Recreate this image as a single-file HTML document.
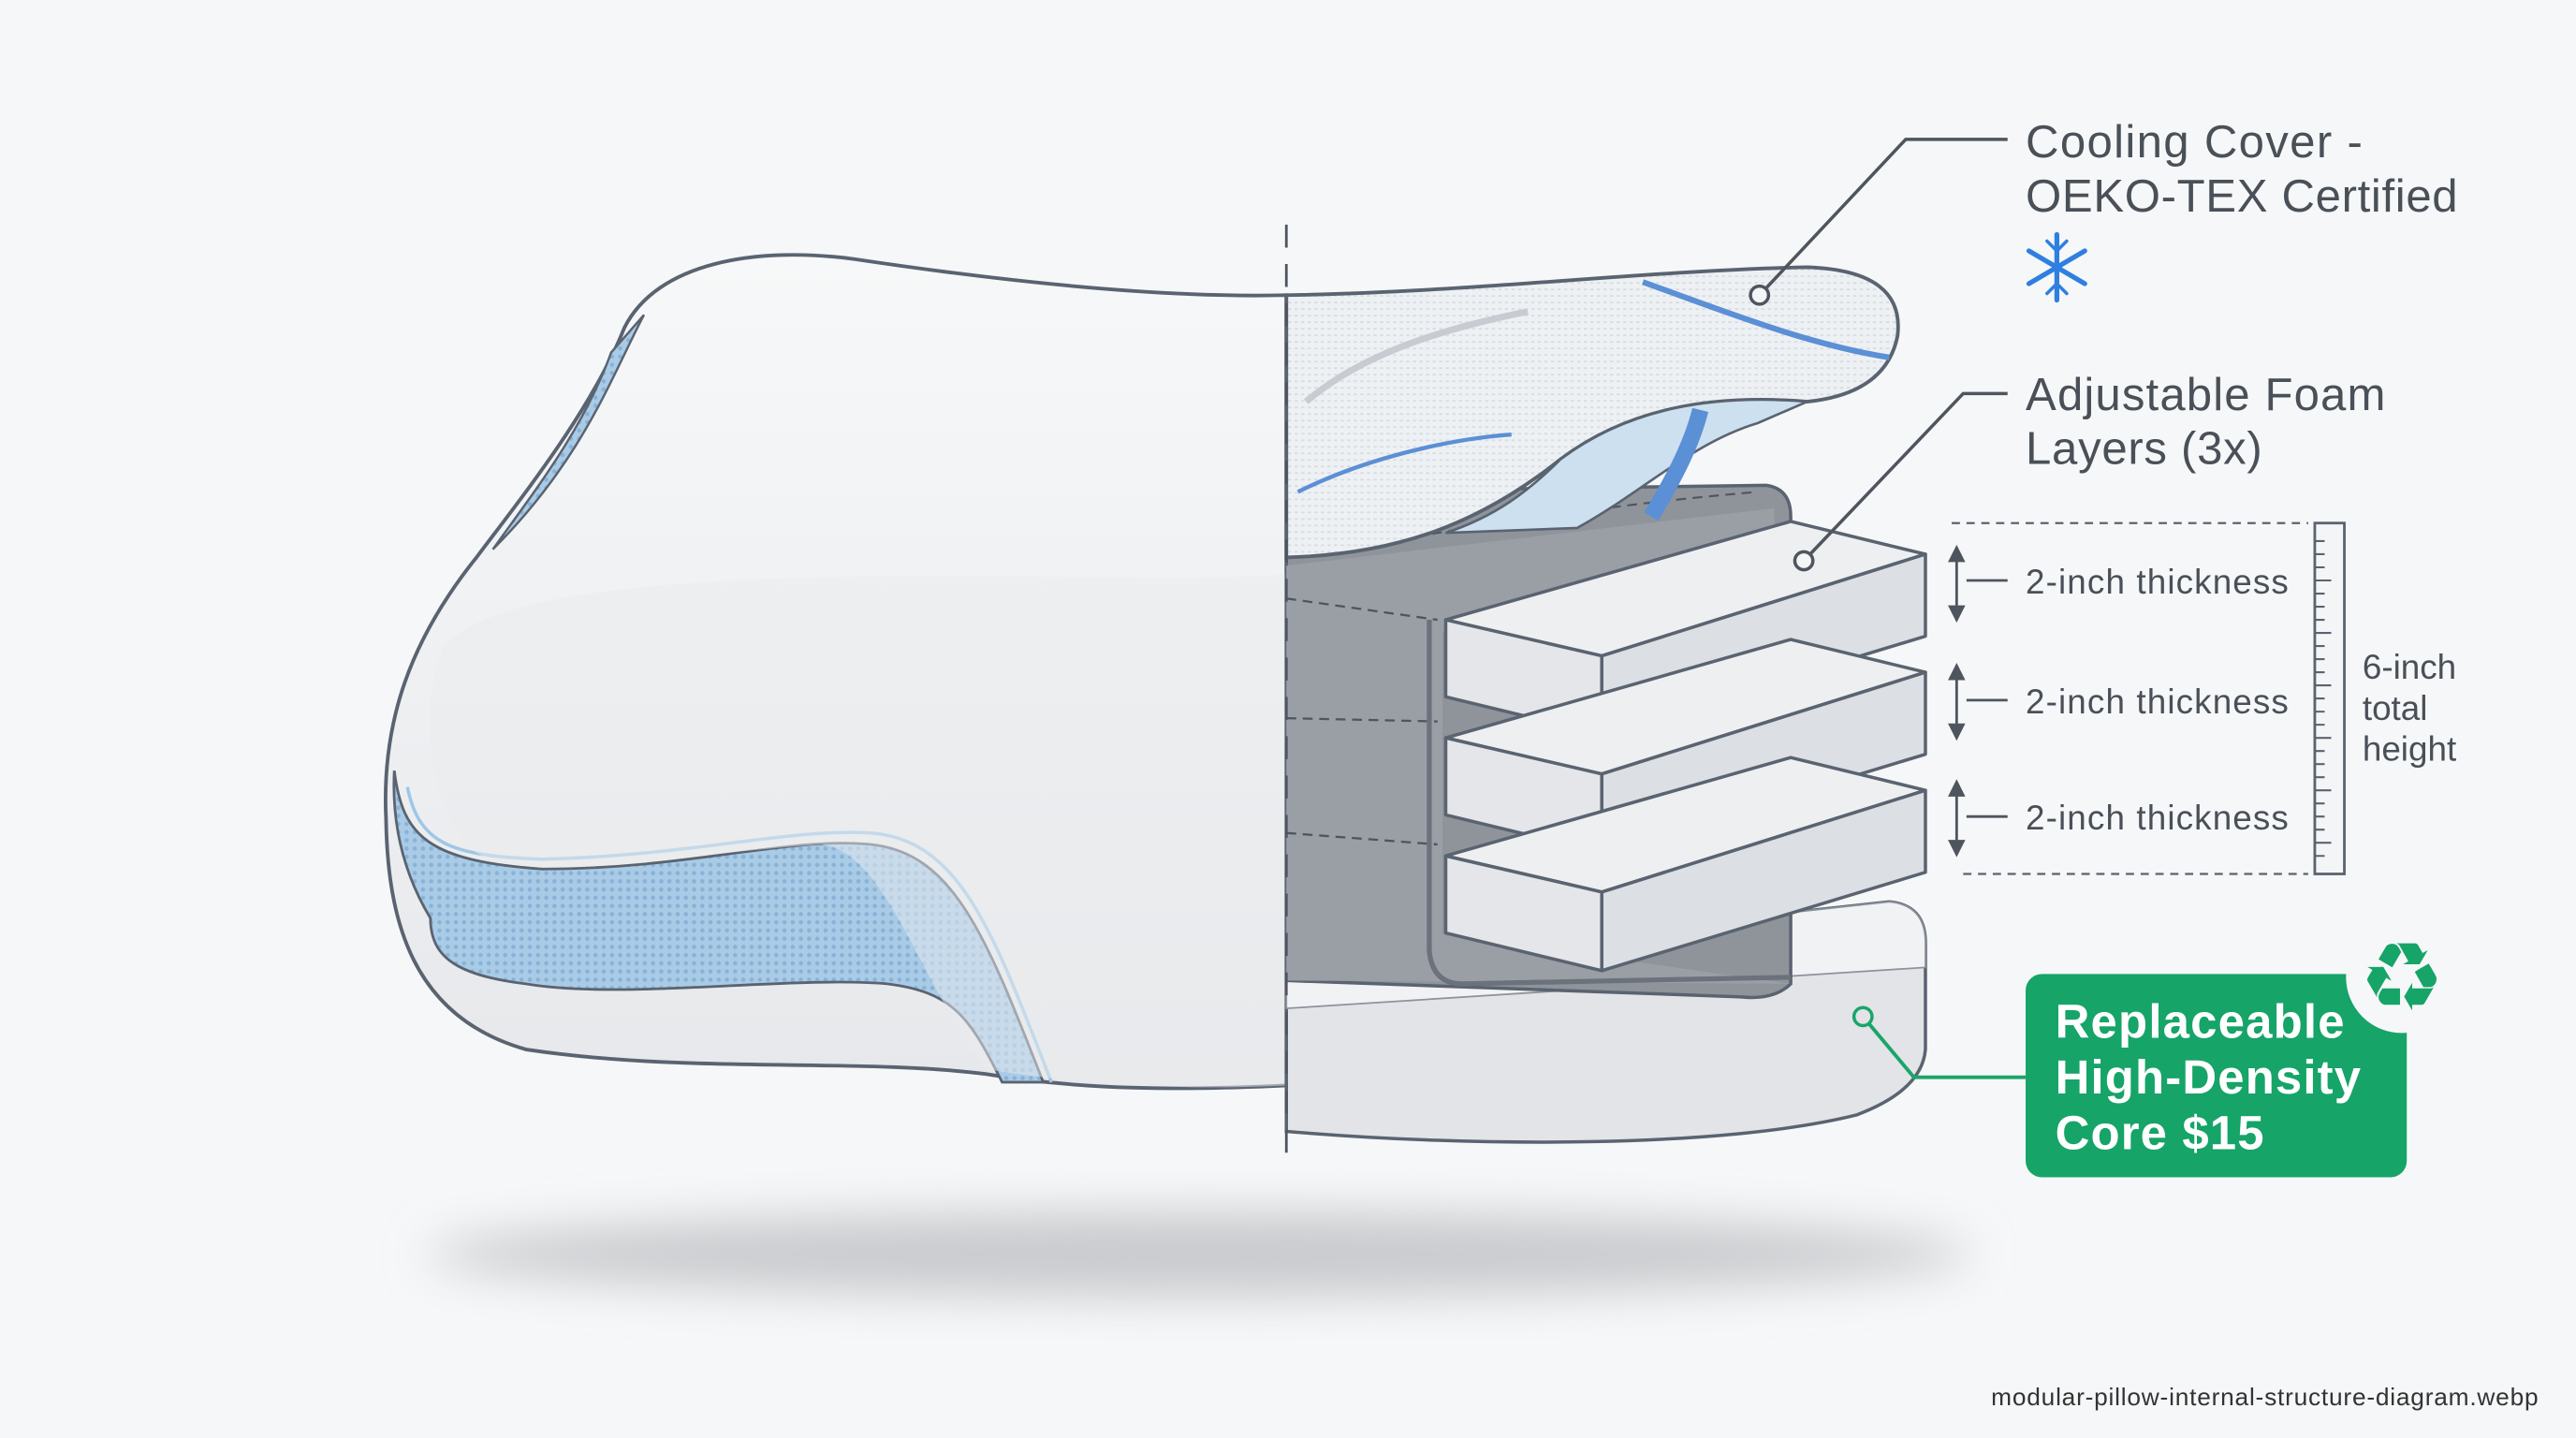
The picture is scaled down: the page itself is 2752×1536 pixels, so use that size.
<!DOCTYPE html>
<html><head><meta charset="utf-8"><style>
html,body{margin:0;padding:0;background:#f6f7f8;}
svg{display:block;}
text{font-family:"Liberation Sans",sans-serif;}
</style></head><body>
<svg width="2752" height="1536" viewBox="0 0 1568 877" preserveAspectRatio="none" xmlns="http://www.w3.org/2000/svg">
<defs>
<filter id="bl" x="-50%" y="-50%" width="200%" height="200%"><feGaussianBlur stdDeviation="14"/></filter>
<pattern id="mesh" width="5" height="5" patternUnits="userSpaceOnUse"><rect width="5" height="5" fill="#a9cbe6"/><circle cx="2.5" cy="2.5" r="1.3" fill="#88b2d8"/></pattern>
<pattern id="knit" width="4" height="4" patternUnits="userSpaceOnUse"><rect width="4" height="4" fill="#eef1f4"/><rect width="2" height="1" fill="#d6dbe1"/></pattern>
<linearGradient id="top" x1="0" y1="0" x2="0" y2="1"><stop offset="0" stop-color="#f7f8f9"/><stop offset="1" stop-color="#e6e8eb"/></linearGradient>
</defs>
<rect width="1568" height="877" fill="#f6f7f8"/>
<ellipse cx="730" cy="765" rx="470" ry="26" fill="#c9cbce" filter="url(#bl)"/>

<!-- left pillow -->
<path d="M783,180 C700,182 600,170 520,158 C460,150 400,160 380,200 C360,250 320,300 290,340 C250,390 232,440 235,500 C236,560 250,620 320,640 C420,655 520,645 600,655 C660,665 720,665 783,662 Z" fill="url(#top)" stroke="#5a6370" stroke-width="2.2"/>
<path d="M392,192 C372,230 355,280 300,335 C325,300 355,262 372,215 Z" fill="url(#mesh)" stroke="#5a6370" stroke-width="1.4"/>
<path d="M240,470 C245,510 260,525 330,530 C420,530 480,510 530,515 C580,520 600,570 635,660 L610,660 C590,620 580,605 540,600 C480,595 380,610 320,600 C280,595 262,585 262,560 C250,540 238,510 240,470 Z" fill="url(#mesh)" stroke="#5a6370" stroke-width="1.6"/>
<path d="M248,480 C255,515 275,522 330,524 C420,522 480,505 530,508 C585,512 605,570 640,660" fill="none" stroke="#9fc6e5" stroke-width="2"/>
<path d="M270,395 C320,330 700,360 783,350 L783,662 C720,665 660,662 600,652 C560,600 540,520 500,515 C420,520 320,540 290,520 C260,495 255,430 270,395 Z" fill="#e9ebee" opacity="0.5"/>

<!-- right: core -->
<path d="M783,590 L1150,550 Q1172,552 1172,575 L1172,640 Q1170,665 1130,680 C1050,700 900,700 783,690 Z" fill="#e2e4e7" stroke="#5a6370" stroke-width="2"/>
<path d="M783,590 L1150,550 Q1172,552 1172,575 L1172,590 L783,615 Z" fill="#f1f2f4" stroke="#8c939c" stroke-width="1"/>
<!-- sleeve -->
<path d="M783,300 L1075,296 Q1090,298 1090,315 L1090,600 Q1080,610 1060,608 L783,598 Z" fill="#8f949b" stroke="#5a6370" stroke-width="2"/>
<path d="M783,345 L1080,310 L1080,330 L878,385 L878,570 L1090,600 L783,598 Z" fill="#9a9fa6"/>
<path d="M783,365 L875,378 M783,438 L875,440 M783,508 L875,515" stroke="#4e555e" stroke-width="1.3" stroke-dasharray="6,4"/>
<path d="M870,378 L870,580 Q872,600 890,600 L1090,596" fill="none" stroke="#6b727b" stroke-width="3"/>
<path d="M783,340 C850,330 950,310 1070,300" fill="none" stroke="#4e555e" stroke-width="1.2" stroke-dasharray="6,4"/>
<!-- foam blocks -->
<g id="blk" stroke="#5a6370" stroke-width="2" stroke-linejoin="round">
<path d="M880,378 L1090,318 L1172,338 L975,400 Z" fill="#eeeff1"/>
<path d="M880,378 L975,400 L975,448 L880,425 Z" fill="#e4e6e9"/>
<path d="M975,400 L1172,338 L1172,388 L975,448 Z" fill="#dcdfe3"/>
</g>
<use href="#blk" y="72"/>
<use href="#blk" y="144"/>

<!-- cover flap -->
<path d="M783,180 C900,178 1000,165 1100,163 Q1160,165 1155,205 Q1148,240 1100,245 C1040,240 990,250 950,280 C900,320 850,338 783,340 Z" fill="url(#knit)" stroke="#5a6370" stroke-width="2.2"/>
<path d="M1100,245 C1040,240 990,250 950,280 C930,300 910,315 880,325 L960,322 C1000,300 1030,270 1070,258 Z" fill="#cde0f0" stroke="#5a6370" stroke-width="1.5"/>
<path d="M1035,250 C1030,270 1020,290 1005,315" stroke="#5b8fd6" stroke-width="10" fill="none"/>
<path d="M1000,172 C1050,190 1100,210 1150,218" stroke="#5b8fd6" stroke-width="3.5" fill="none"/>
<path d="M790,300 C830,280 880,268 920,265" stroke="#5b8fd6" stroke-width="2.5" fill="none"/>
<path d="M795,245 C830,215 880,200 930,190" stroke="#c8ccd2" stroke-width="4" fill="none"/>

<!-- center dashed line -->
<line x1="783" y1="137" x2="783" y2="710" stroke="#4e555e" stroke-width="1.6" stroke-dasharray="14,10"/>

<!-- leaders -->
<g fill="none" stroke="#4e555e" stroke-width="2">
<polyline points="1071,180 1160,85 1222,85"/>
<circle cx="1071" cy="180" r="5.5" fill="#f4f5f6"/>
<polyline points="1098,342 1195,240 1222,240"/>
<circle cx="1098" cy="342" r="5.5" fill="#f4f5f6"/>
</g>
<polyline points="1134,620 1165,657 1233,657" fill="none" stroke="#1aa56a" stroke-width="2.2"/>
<circle cx="1134" cy="620" r="5.5" fill="#e2e4e7" stroke="#1aa56a" stroke-width="2"/>

<!-- dimension arrows -->
<g stroke="#4e555e" stroke-width="1.6" fill="#4e555e">
<line x1="1191" y1="336" x2="1191" y2="376"/><path d="M1187,342 L1191,334 L1195,342 Z M1187,370 L1191,378 L1195,370 Z"/><line x1="1197" y1="354" x2="1222" y2="354"/>
<line x1="1191" y1="408" x2="1191" y2="448"/><path d="M1187,414 L1191,406 L1195,414 Z M1187,442 L1191,450 L1195,442 Z"/><line x1="1197" y1="427" x2="1222" y2="427"/>
<line x1="1191" y1="479" x2="1191" y2="519"/><path d="M1187,485 L1191,477 L1195,485 Z M1187,513 L1191,521 L1195,513 Z"/><line x1="1197" y1="498" x2="1222" y2="498"/>
</g>
<g stroke="#5a6370" stroke-width="1.3" stroke-dasharray="5,4">
<line x1="1188" y1="319" x2="1405" y2="319"/><line x1="1195" y1="533" x2="1405" y2="533"/>
</g>
<rect x="1409" y="319" width="18" height="214" fill="#f4f5f6" stroke="#5a6370" stroke-width="1.6"/>
<path d="M1409,330h6M1409,338h6M1409,346h6M1409,354h10M1409,362h6M1409,370h6M1409,378h6M1409,386h10M1409,394h6M1409,402h6M1409,410h6M1409,418h10M1409,426h6M1409,434h6M1409,442h6M1409,450h10M1409,458h6M1409,466h6M1409,474h6M1409,482h10M1409,490h6M1409,498h6M1409,506h6M1409,514h10M1409,522h6" stroke="#5a6370" stroke-width="1.2"/>

<!-- labels -->
<g fill="#4a5058">
<text x="1233" y="96" font-size="28" textLength="205">Cooling Cover -</text>
<text x="1233" y="129" font-size="28" textLength="263">OEKO-TEX Certified</text>
<text x="1233" y="250" font-size="28" textLength="219">Adjustable Foam</text>
<text x="1233" y="283" font-size="28" textLength="144">Layers (3x)</text>
<text x="1233" y="362" font-size="21" textLength="160">2-inch thickness</text>
<text x="1233" y="435" font-size="21" textLength="160">2-inch thickness</text>
<text x="1233" y="506" font-size="21" textLength="160">2-inch thickness</text>
<text x="1438" y="414" font-size="21">6-inch</text>
<text x="1438" y="439" font-size="21">total</text>
<text x="1438" y="464" font-size="21">height</text>
</g>
<!-- snowflake -->
<g stroke="#2f7fe0" stroke-width="3" stroke-linecap="round">
<line x1="1252" y1="143" x2="1252" y2="183"/><line x1="1235" y1="153" x2="1269" y2="173"/><line x1="1235" y1="173" x2="1269" y2="153"/>
<path d="M1246,147 L1252,153 L1258,147 M1246,179 L1252,173 L1258,179" fill="none" stroke-width="2"/>
</g>
<!-- green box -->
<rect x="1233" y="594" width="232" height="124" rx="10" fill="#16a468"/>
<g fill="#fff" font-weight="bold" font-size="29">
<text x="1251" y="633" textLength="176">Replaceable</text>
<text x="1251" y="667" textLength="186">High-Density</text>
<text x="1251" y="701" textLength="127">Core $15</text>
</g>
<circle cx="1462" cy="596" r="34" fill="#f6f7f8"/>
<text x="1462" y="616" font-size="58" fill="#16a468" text-anchor="middle" font-family="DejaVu Sans,sans-serif">♻</text>
<text x="1545" y="857" font-size="15" fill="#333" text-anchor="end" textLength="333">modular-pillow-internal-structure-diagram.webp</text>
</svg>
</body></html>
